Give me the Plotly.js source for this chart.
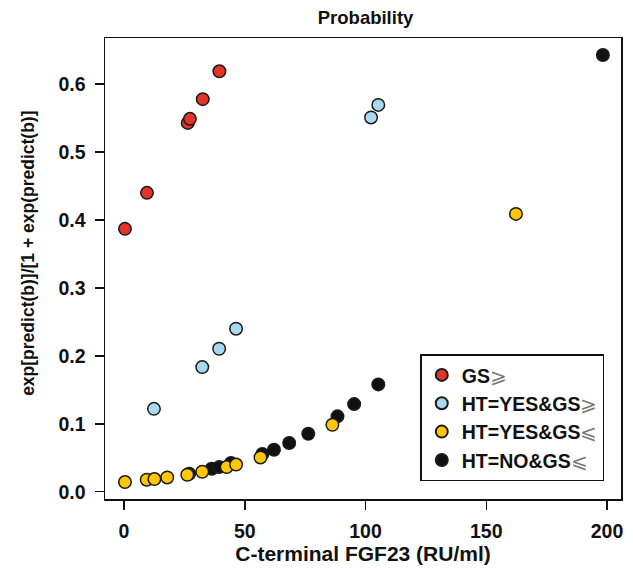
<!DOCTYPE html>
<html>
<head>
<meta charset="utf-8">
<script src="https://cdn.plot.ly/plotly-3.0.1.min.js"></script>
<style>html,body{margin:0;padding:0;background:#fff;}#chart{width:633px;height:570px;}</style>
</head>
<body>
<div id="chart"></div>
<script>
// Data
const gsHighX = [0.4, 9.5, 26.4, 27.3, 32.6, 39.5];
const gsHighY = [0.387, 0.440, 0.543, 0.549, 0.578, 0.619];

const htYesGsHighX = [12.4, 32.4, 39.4, 46.4, 102.3, 105.3];
const htYesGsHighY = [0.122, 0.1835, 0.2105, 0.240, 0.551, 0.5695];

const htYesGsLowX = [0.4, 9.4, 12.6, 17.9, 26.2, 32.4, 42.5, 46.4, 56.5, 86.3, 162.3];
const htYesGsLowY = [0.0143, 0.0177, 0.0187, 0.021, 0.025, 0.0294, 0.0363, 0.040, 0.0505, 0.0986, 0.409];

const htNoGsLowX = [27.0, 36.3, 39.4, 44.3, 57.3, 62.1, 68.4, 76.3, 88.4, 95.3, 105.3, 198.3];
const htNoGsLowY = [0.0265, 0.0338, 0.0363, 0.0422, 0.0555, 0.0618, 0.0717, 0.0854, 0.111, 0.129, 0.158, 0.643];

const xTicks = [0, 50, 100, 150, 200];
const xTickText = ['0', '50', '100', '150', '200'];
const yTicks = [0, 0.1, 0.2, 0.3, 0.4, 0.5, 0.6];
const yTickText = ['0.0', '0.1', '0.2', '0.3', '0.4', '0.5', '0.6'];

const names = [
  'GS<span style="font-weight:normal;color:#777">⩾</span>',
  'HT=YES&amp;GS<span style="font-weight:normal;color:#777">⩾</span>',
  'HT=YES&amp;GS<span style="font-weight:normal;color:#777">⩽</span>',
  'HT=NO&amp;GS<span style="font-weight:normal;color:#777">⩽</span>'
];
const colors = ['#E3342A', '#A9D9F1', '#FFC703', '#111111'];

const FONT = 'Liberation Sans, Arial, Helvetica, sans-serif';

function tr(x, y, i) {
  return {
    x: x, y: y, type: 'scatter', mode: 'markers', name: names[i],
    legendrank: i + 1,
    marker: {size: 12.5, color: colors[i], line: {color: '#1a1a1a', width: 1.5}},
    hoverinfo: 'x+y'
  };
}

const data = [
  tr(htNoGsLowX, htNoGsLowY, 3),
  tr(htYesGsLowX, htYesGsLowY, 2),
  tr(htYesGsHighX, htYesGsHighY, 1),
  tr(gsHighX, gsHighY, 0)
];

const layout = {
  width: 633, height: 570,
  margin: {l: 105, r: 12, t: 38, b: 71},
  paper_bgcolor: '#fff', plot_bgcolor: '#fff',
  font: {family: FONT, color: '#111', size: 17, weight: 'bold'},
  title: {text: 'Probability', font: {family: FONT, size: 18.5, weight: 'bold', color: '#111'},
          x: 0.5775, xanchor: 'center', y: 1 - 18 / 570, yanchor: 'middle', yref: 'container'},
  xaxis: {
    range: [-7.87, 205.8], tickvals: xTicks, ticktext: xTickText,
    showgrid: false, zeroline: false, showline: true, mirror: true, linecolor: '#111', linewidth: 1.5,
    ticks: 'outside', ticklen: 9, tickwidth: 1.5, tickcolor: '#111', ticklabelstandoff: 5,
    tickfont: {family: FONT, size: 19.5, weight: 'bold', color: '#111'},
    title: {text: 'C-terminal FGF23 (RU/ml)', font: {family: FONT, size: 21, weight: 'bold', color: '#111'}, standoff: 4}
  },
  yaxis: {
    range: [-0.0107, 0.668], tickvals: yTicks, ticktext: yTickText,
    showgrid: false, zeroline: false, showline: true, mirror: true, linecolor: '#111', linewidth: 1.5,
    ticks: 'outside', ticklen: 9, tickwidth: 1.5, tickcolor: '#111', ticklabelstandoff: 5,
    tickfont: {family: FONT, size: 19.5, weight: 'bold', color: '#111'}
  },
  annotations: [{
    text: 'exp[predict(b)]/[1 + exp(predict(b)]', textangle: -90,
    xref: 'paper', yref: 'paper', x: (28 - 105) / 516, y: (499.3 - 254) / 461.3,
    xanchor: 'center', yanchor: 'middle', showarrow: false,
    font: {family: FONT, size: 17.5, weight: 'bold', color: '#111'}
  }],
  showlegend: true,
  legend: {
    x: 0.611, y: 0.314, xanchor: 'left', yanchor: 'top',
    bgcolor: '#fff', bordercolor: '#111', borderwidth: 1.5,
    font: {family: FONT, size: 19.5, weight: 'bold', color: '#111'},
    tracegroupgap: 0, itemsizing: 'constant', itemwidth: 30
  }
};

Plotly.newPlot('chart', data, layout, {displayModeBar: false, staticPlot: true});
</script>
</body>
</html>
